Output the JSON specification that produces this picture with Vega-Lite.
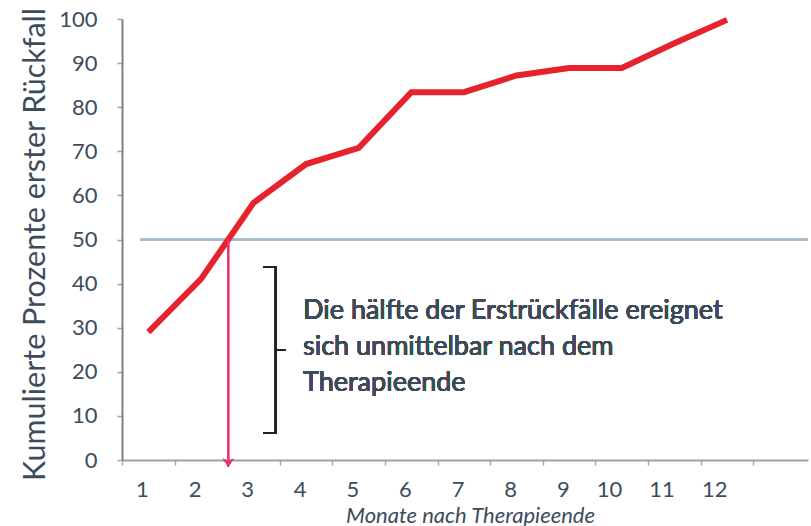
{
  "$schema": "https://vega.github.io/schema/vega-lite/v6.json",
  "width": 686,
  "height": 441,
  "autosize": {"type": "none"},
  "padding": {"left": 122, "top": 19, "right": 3, "bottom": 66},
  "background": "white",
  "config": {"view": {"stroke": null}, "font": "Lato"},
  "data": {"values": [
    {"monat": 1, "prozent": 29},
    {"monat": 2, "prozent": 41},
    {"monat": 3, "prozent": 58.3},
    {"monat": 4, "prozent": 67.1},
    {"monat": 5, "prozent": 70.8},
    {"monat": 6, "prozent": 83.4},
    {"monat": 7, "prozent": 83.4},
    {"monat": 8, "prozent": 87.2},
    {"monat": 9, "prozent": 88.9},
    {"monat": 10, "prozent": 88.9},
    {"monat": 11, "prozent": 94.5},
    {"monat": 12, "prozent": 99.8}
  ]},
  "layer": [
    {
      "mark": {"type": "rule", "color": "#a7bacb", "strokeWidth": 1.3},
      "encoding": {
        "x": {"datum": 1, "type": "ordinal", "bandPosition": 0.35},
        "x2": {"value": "width"},
        "y": {"datum": 50, "type": "quantitative"}
      }
    },
    {
      "mark": {"type": "line", "color": "#e6222c", "strokeWidth": 6, "strokeJoin": "miter"},
      "encoding": {
        "x": {
          "field": "monat", "type": "ordinal", "bandPosition": 0.5,
          "scale": {"type": "band", "domain": [1,2,3,4,5,6,7,8,9,10,11,12], "paddingInner": 0, "paddingOuter": 0.52, "align": 0},
          "axis": {
            "title": "Monate nach Therapieende",
            "titleFont": "Lato", "titleFontStyle": "italic", "titleFontWeight": "normal", "titleFontSize": 22, "titleColor": "#3c4c5d",
            "titleX": 348, "titleY": 55, "titleAlign": "center", "titleBaseline": "middle",
            "labelAngle": 0, "labelFont": "Lato", "labelFontSize": 22, "labelColor": "#3c4c5d", "labelPadding": 24,
            "tickBand": "extent", "tickSize": 5, "tickColor": "#a8a8a8", "tickWidth": 1.5,
            "domainColor": "#a0a0a0", "domainWidth": 2, "grid": false
          }
        },
        "y": {
          "field": "prozent", "type": "quantitative",
          "scale": {"domain": [0, 100], "nice": false},
          "axis": {
            "title": "Kumulierte Prozente erster Rückfall",
            "titleFont": "Lato", "titleFontWeight": "normal", "titleFontSize": 30.5, "titleColor": "#3c4c5d",
            "titleX": -87, "titleY": 225, "titleAlign": "center", "titleBaseline": "middle", "titleAngle": -90,
            "values": [0,10,20,30,40,50,60,70,80,90,100],
            "labelFont": "Lato", "labelFontSize": 22, "labelColor": "#3c4c5d", "labelPadding": 20,
            "tickSize": 5, "tickColor": "#a0a0a0", "tickWidth": 1.5,
            "domainColor": "#808080", "domainWidth": 2, "grid": false
          }
        }
      }
    },
    {
      "mark": {"type": "rule", "color": "#e8386a", "strokeWidth": 1.6},
      "encoding": {
        "x": {"datum": 2, "type": "ordinal", "bandPosition": 1.02},
        "y": {"datum": 50, "type": "quantitative"},
        "y2": {"datum": -1.5}
      }
    },
    {
      "mark": {"type": "point", "shape": "M-1,-1.5L0,0L1,-1.5L0,-1Z", "filled": true, "color": "#e8386a", "size": 110, "opacity": 1},
      "encoding": {
        "x": {"datum": 2, "type": "ordinal", "bandPosition": 1.02},
        "y": {"datum": -1.5, "type": "quantitative"}
      }
    },
    {
      "mark": {"type": "point", "shape": "M-0.145,-1L0,-1L0,1L-0.145,1M0,0L0.12,0", "filled": false, "color": "#222222", "strokeWidth": 1.6, "size": 27556, "opacity": 1},
      "encoding": {
        "x": {"datum": 3, "type": "ordinal", "bandPosition": 0.92},
        "y": {"datum": 24.95, "type": "quantitative"}
      }
    },
    {
      "mark": {"type": "text", "align": "left", "baseline": "alphabetic", "font": "Lato", "fontSize": 27, "color": "#3d4a57", "lineBreak": "\n", "lineHeight": 36},
      "encoding": {
        "x": {"datum": 4, "type": "ordinal", "bandPosition": 0.44},
        "y": {"datum": 32.0, "type": "quantitative"},
        "text": {"value": "Die hälfte der Erstrückfälle ereignet\nsich unmittelbar nach dem\nTherapieende"}
      }
    }
  ]
}
